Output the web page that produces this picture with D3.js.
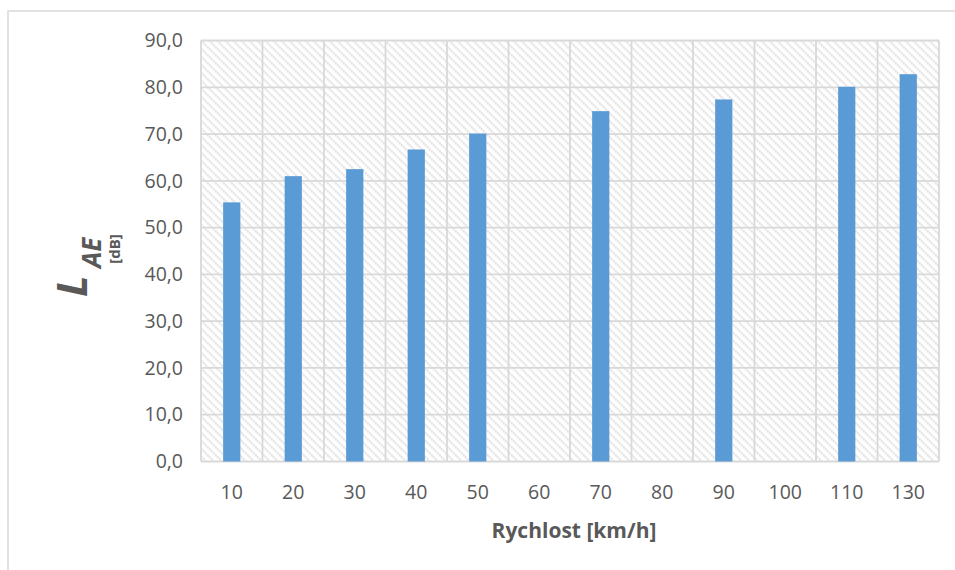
<!DOCTYPE html>
<html>
<head>
<meta charset="utf-8">
<script src="https://cdn.jsdelivr.net/npm/d3@7"></script>
<style>
  html, body { margin: 0; padding: 0; background: #fff; }
  svg { display: block; font-family: "Open Sans", "Liberation Sans", sans-serif; }
</style>
</head>
<body>
<svg id="chart" width="955" height="570"></svg>
<script>
// Vehicle speed categories [km/h]
const categories = ["10", "20", "30", "40", "50", "60", "70", "80", "90", "100", "110", "130"];
// Sound exposure level L_AE [dB]; no measurement for 60, 80 and 100 km/h
const laeValues = [55.4, 61.0, 62.5, 66.7, 70.1, null, 74.9, null, 77.4, null, 80.1, 82.8];
// Value-axis ticks
const yTicks = [0, 10, 20, 30, 40, 50, 60, 70, 80, 90];

const W = 955, H = 570;
const margin = { left: 201, right: 16, top: 40.5, bottom: 108.5 };
const plotW = W - margin.left - margin.right;
const plotH = H - margin.top - margin.bottom;

const svg = d3.select("#chart");

// Czech number format: decimal comma
const cz = d3.formatLocale({ decimal: ",", thousands: "\u00a0", grouping: [3], currency: ["", " Kč"] });
const fmt = cz.format(".1f");

// Outer chart frame
svg.append("rect")
  .attr("x", 8).attr("y", 11)
  .attr("width", W + 20).attr("height", H + 20)
  .attr("fill", "none").attr("stroke", "#d9d9d9").attr("stroke-width", 1.5);

// Diagonal hatch fill for the plot area
const defs = svg.append("defs");
const pat = defs.append("pattern")
  .attr("id", "hatch")
  .attr("patternUnits", "userSpaceOnUse")
  .attr("width", 8).attr("height", 8);
pat.append("rect").attr("width", 8).attr("height", 8).attr("fill", "#ffffff");
pat.append("path")
  .attr("d", "M-2,-2 L10,10 M-2,6 L2,10 M6,-2 L10,2")
  .attr("stroke", "#dcdcdc").attr("stroke-width", 2.1)
  .attr("stroke-dasharray", "1.8,1.1");

const g = svg.append("g").attr("transform", `translate(${margin.left},${margin.top})`);

const x = d3.scaleBand()
  .domain(categories)
  .range([0, plotW])
  .paddingInner(0.72)
  .paddingOuter(0.36);

const y = d3.scaleLinear().domain([0, 90]).range([plotH, 0]);

g.append("rect")
  .attr("width", plotW).attr("height", plotH)
  .attr("fill", "url(#hatch)");

// Horizontal gridlines
g.append("g").selectAll("line")
  .data(yTicks)
  .join("line")
  .attr("x1", 0).attr("x2", plotW)
  .attr("y1", d => y(d)).attr("y2", d => y(d))
  .attr("stroke", "#d9d9d9").attr("stroke-width", 1.8);

// Vertical gridlines at category boundaries
const bounds = d3.range(categories.length + 1).map(i => i * x.step());
g.append("g").selectAll("line")
  .data(bounds)
  .join("line")
  .attr("x1", d => d).attr("x2", d => d)
  .attr("y1", 0).attr("y2", plotH)
  .attr("stroke", "#d9d9d9").attr("stroke-width", 1.8);

// Bars
g.append("g").selectAll("rect")
  .data(categories.map((c, i) => ({ c, v: laeValues[i] })).filter(d => d.v != null))
  .join("rect")
  .attr("x", d => x(d.c))
  .attr("width", x.bandwidth())
  .attr("y", d => y(d.v))
  .attr("height", d => y(0) - y(d.v))
  .attr("fill", "#5b9bd5");

// Y axis labels
const yAxis = g.append("g")
  .attr("transform", "translate(-18,0)")
  .call(d3.axisLeft(y).tickValues(yTicks).tickFormat(fmt).tickSize(0).tickPadding(0));
yAxis.select(".domain").remove();
yAxis.selectAll("text")
  .attr("fill", "#595959").style("font-size", "19.5px")
  .style("font-family", "\"Open Sans\", sans-serif");

// X axis labels
const xAxis = g.append("g")
  .attr("transform", `translate(0,${plotH})`)
  .call(d3.axisBottom(x).tickSize(0).tickPadding(24));
xAxis.select(".domain").remove();
xAxis.selectAll("text")
  .attr("fill", "#595959").style("font-size", "19.5px")
  .style("font-family", "\"Open Sans\", sans-serif");

// X axis title
svg.append("text")
  .attr("x", 574).attr("y", 538)
  .attr("text-anchor", "middle")
  .attr("fill", "#595959")
  .style("font-size", "21px").style("font-weight", "bold")
  .text("Rychlost [km/h]");

// Y axis title: L_AE with unit below the subscript
const yt = svg.append("g").attr("transform", "translate(87,297) rotate(-90)");
yt.append("text")
  .attr("x", 0).attr("y", 0)
  .attr("fill", "#595959")
  .style("font-size", "42px").style("font-weight", "bold").style("font-style", "italic")
  .text("L");
yt.append("text")
  .attr("x", 29).attr("y", 14)
  .attr("fill", "#595959")
  .style("font-size", "26px").style("font-weight", "bold").style("font-style", "italic")
  .text("AE");
yt.append("text")
  .attr("x", 48).attr("y", 33)
  .attr("text-anchor", "middle")
  .attr("fill", "#595959")
  .style("font-size", "15px").style("font-weight", "bold")
  .text("[dB]");
</script>
</body>
</html>
